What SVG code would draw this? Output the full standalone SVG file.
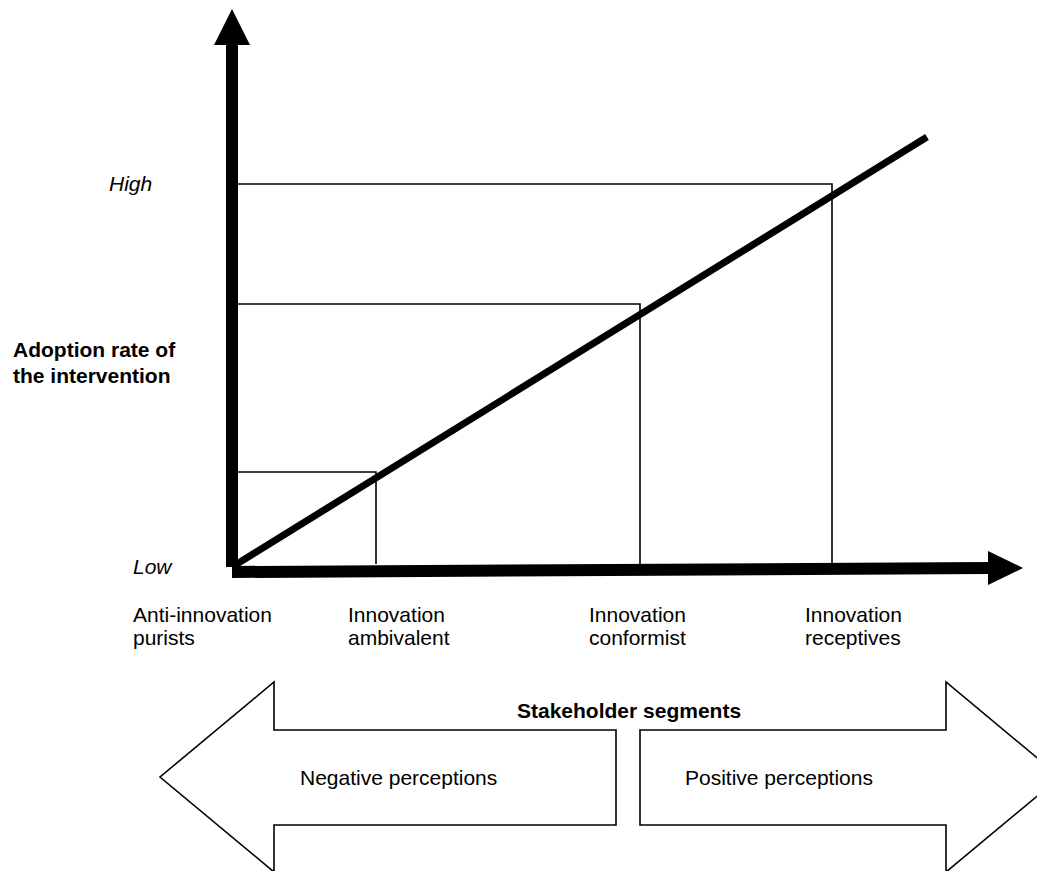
<svg xmlns="http://www.w3.org/2000/svg" width="1037" height="871" viewBox="0 0 1037 871">
<style>
text{font-family:"Liberation Sans",Arial,sans-serif;font-size:21px;fill:#000}
.b{font-weight:bold}
.i{font-style:italic}
.thin{fill:none;stroke:#000;stroke-width:1.6}
.blk{fill:#fff;stroke:#000;stroke-width:1.6;stroke-linejoin:miter}
</style>
<rect width="1037" height="871" fill="#fff"/>
<g id="levels">
<polyline class="thin" points="237,472 376,472 376,564"/>
<polyline class="thin" points="237,304 640,304 640,564"/>
<polyline class="thin" points="237,184 832,184 832,563"/>
</g>
<g id="connectors">
<line x1="232" y1="567" x2="927" y2="137" stroke="#000" stroke-width="7"/>
<line x1="232" y1="45" x2="232" y2="567" stroke="#000" stroke-width="12"/>
<polygon points="214,45 232,9 250,45" fill="#000"/>
<line x1="232" y1="572" x2="990" y2="568" stroke="#000" stroke-width="12"/>
<polygon points="988,551 1023,568 988,585" fill="#000"/>
</g>
<g id="axis-labels">
<text x="109" y="191" class="i">High</text>
<text x="133" y="574" class="i">Low</text>
<text x="13" y="357" class="b">Adoption rate of</text>
<text x="13" y="383" class="b">the intervention</text>
</g>
<g id="segments">
<text x="133" y="622">Anti-innovation</text>
<text x="133" y="645">purists</text>
<text x="348" y="622">Innovation</text>
<text x="348" y="645">ambivalent</text>
<text x="589" y="622">Innovation</text>
<text x="589" y="645">conformist</text>
<text x="805" y="622">Innovation</text>
<text x="805" y="645">receptives</text>
</g>
<g id="negative">
<polygon class="blk" points="616,730 274,730 274,682 160,777 274,872 274,825 616,825"/>
<text x="300" y="785">Negative perceptions</text>
</g>
<g id="positive">
<polygon class="blk" points="640,730 946,730 946,682 1060,777 946,872 946,825 640,825"/>
<text x="685" y="785">Positive perceptions</text>
</g>
<g id="title">
<text x="517" y="718" class="b">Stakeholder segments</text>
</g>
</svg>
